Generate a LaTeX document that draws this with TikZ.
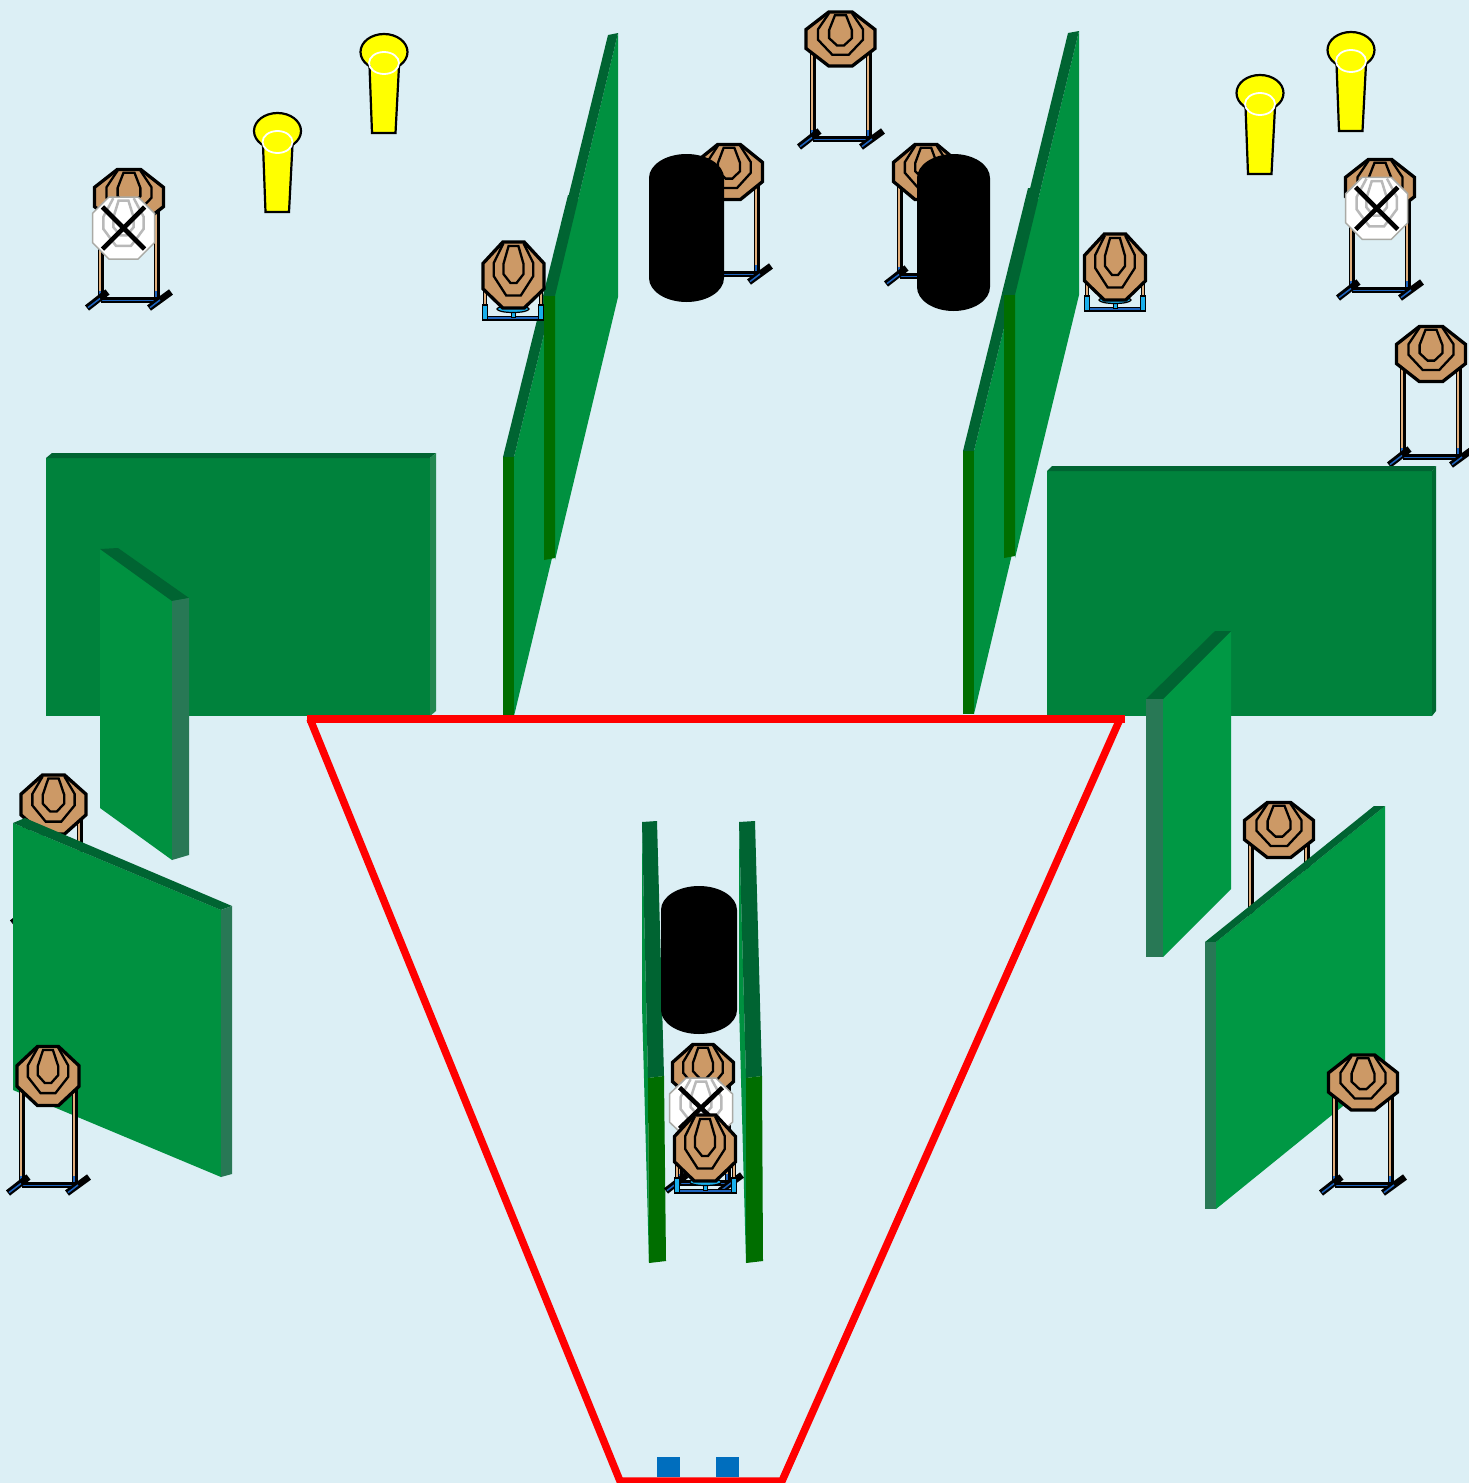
\documentclass[tikz,border=0pt]{standalone}
\definecolor{bgc}{RGB}{220,239,245}
\definecolor{tanc}{RGB}{204,153,102}
\definecolor{gdark}{RGB}{0,100,50}
\definecolor{gface}{RGB}{0,145,64}
\definecolor{gface2}{RGB}{0,152,68}
\definecolor{gbig}{RGB}{0,130,60}
\definecolor{gside}{RGB}{40,120,85}
\definecolor{gsideb}{RGB}{35,135,80}
\definecolor{gsidec}{RGB}{0,105,50}
\definecolor{gsl}{RGB}{0,110,0}
\definecolor{bluec}{RGB}{30,100,190}
\definecolor{cyanc}{RGB}{25,175,235}
\definecolor{sq}{RGB}{0,110,190}
\definecolor{yel}{RGB}{255,255,0}
\definecolor{redc}{RGB}{255,0,0}
\definecolor{wedge}{RGB}{170,170,165}
\definecolor{wring}{RGB}{185,185,185}
\definecolor{tanp}{RGB}{225,175,125}
\tikzset{
 oct/.style={draw=black,line width=3.3pt,line join=miter,fill=tanc},
 ringl/.style={draw=black,line width=2.3pt,line join=miter},
 woct/.style={draw=wedge,line width=1.5pt,fill=white},
 wringl/.style={draw=wring,line width=2.5pt},
 barrel/.style={fill=black},
 cone/.style={draw=black,line width=2.2pt,fill=yel},
}
% target: cx cy hw hh
\newcommand{\tgt}[4]{\begin{scope}[shift={(#1,#2)},x=#3pt,y=-#4pt]
 \draw[oct] (-.34,-1)--(.34,-1)--(1,-.35)--(1,.35)--(.34,1)--(-.34,1)--(-1,.35)--(-1,-.35)--cycle;
 \draw[ringl] (-.33,-.96)--(-.65,-.36)--(-.65,.03)--(-.24,.58)--(.24,.58)--(.65,.03)--(.65,-.36)--(.33,-.96);
 \draw[ringl] (-.16,-.88)--(.16,-.88)--(.33,-.33)--(.33,-.03)--(.1,.24)--(-.1,.24)--(-.33,-.03)--(-.33,-.33)--cycle;
\end{scope}}
% near target, narrower bottom
\newcommand{\tgtn}[4]{\begin{scope}[shift={(#1,#2)},x=#3pt,y=-#4pt]
 \draw[oct] (-.35,-1)--(.35,-1)--(1,-.35)--(1,.42)--(.35,1)--(-.35,1)--(-1,.42)--(-1,-.35)--cycle;
 \draw[ringl] (-.33,-.96)--(-.65,-.36)--(-.65,.03)--(-.24,.62)--(.24,.62)--(.65,.03)--(.65,-.36)--(.33,-.96);
 \draw[ringl] (-.16,-.88)--(.16,-.88)--(.33,-.33)--(.33,-.03)--(.1,.24)--(-.1,.24)--(-.33,-.03)--(-.33,-.33)--cycle;
\end{scope}}
% white crossed target
\newcommand{\wtgt}[4]{\begin{scope}[shift={(#1,#2)},x=#3pt,y=-#4pt]
 \draw[woct] (-.47,-1)--(.47,-1)--(1,-.47)--(1,.47)--(.47,1)--(-.47,1)--(-1,.47)--(-1,-.47)--cycle;
 \draw[wringl] (-.33,-.96)--(-.65,-.36)--(-.65,.03)--(-.24,.58)--(.24,.58)--(.65,.03)--(.65,-.36)--(.33,-.96);
 \draw[wringl] (-.16,-.88)--(.16,-.88)--(.33,-.33)--(.33,-.03)--(.1,.24)--(-.1,.24)--(-.33,-.03)--(-.33,-.33)--cycle;
 \draw[black,line width=4.6pt] (-.68,-.68)--(.68,.68) (.68,-.68)--(-.68,.68);
\end{scope}}
% stand: xl xr ytop ybar
\newcommand{\stand}[4]{
 \draw[black,line width=5.6pt] (#1,#3)--(#1,#4) (#2,#3)--(#2,#4);
 \draw[tanp,line width=1.8pt] (#1-.8,#3)--(#1-.8,#4-9) (#2-.8,#3)--(#2-.8,#4-9);
 \draw[bluec,line width=2.2pt] (#1-.8,#4-9)--(#1-.8,#4) (#2-.8,#4-9)--(#2-.8,#4);
 \draw[black,line width=5.4pt] (#1,#4)--(#2,#4);
 \draw[bluec,line width=1.6pt] (#1,#4+.6)--(#2,#4+.6);
 \draw[black,line width=6.6pt] (#1-14,#4+8)--(#1+6.5,#4-8) (#2-8,#4+8)--(#2+14,#4-8);
 \draw[bluec,line width=1.5pt] (#1-13,#4+7.6)--(#1-1,#4-1.5) (#2-7,#4+7.6)--(#2+3,#4);
}
% short box stand: xl xr ytop ybot
\newcommand{\bstand}[4]{
 \draw[black,line width=4.4pt] (#1,#3)--(#1,#4) (#2,#3)--(#2,#4);
 \draw[tanp,line width=1.8pt] (#1,#3)--(#1,#3+15) (#2,#3)--(#2,#3+15);
 \draw[black,line width=5pt] (#1-1,#4-1.5)--(#2+1,#4-1.5);
 \draw[bluec,line width=1.6pt] (#1,#4-2)--(#2,#4-2);
 \draw[draw=black,fill=cyanc,line width=1.2pt] (#1-2.2,#3+15) rectangle (#1+2.2,#4);
 \draw[draw=black,fill=cyanc,line width=1.2pt] (#2-2.2,#3+15) rectangle (#2+2.2,#4);
 \draw[draw=black,fill=cyanc,line width=1pt] ({(#1+#2)/2-2},#4-11) rectangle ({(#1+#2)/2+2},#4-3);
 \draw[draw=black,fill=cyanc,line width=1.2pt] ({(#1+#2)/2},#4-11) ellipse [x radius=16pt,y radius=3.5pt];
}
% cone: cx topcy
\newcommand{\conec}[2]{
 \draw[cone] (#1,#2) ellipse [x radius=23.5pt,y radius=18pt];
 \draw[cone] (#1-14.5,#2+14)--(#1-12,#2+81)--(#1+11.5,#2+81)--(#1+15,#2+14);
 \fill[yel] (#1-13.4,#2+8) rectangle (#1+13.9,#2+16);
 \draw[white,line width=1.8pt] (#1,#2+11) ellipse [x radius=15pt,y radius=11pt];
}
\newcommand{\barrelc}[4]{% xl xr top bottom
 \fill[barrel] (#1,#3+24) arc[start angle=180,end angle=0,x radius={(#2-#1)/2},y radius=-24] -- (#2,#4-24) arc[start angle=0,end angle=-180,x radius={(#2-#1)/2},y radius=-24] -- cycle;
}
\newcommand{\pfill}[2]{\fill[#1] #2 -- cycle;}
\begin{document}
\begin{tikzpicture}[x=1pt,y=-1pt]
\useasboundingbox (0,0) rectangle (1469,1483);
\fill[bgc] (0,0) rectangle (1469,1483);

% far targets
\stand{813}{869}{50}{139}\tgt{840.5}{39}{34.5}{27}
\stand{701}{757}{172}{274}\tgt{729}{172}{33.5}{27.5}
\stand{900}{956}{172}{276}\tgt{926}{172}{32.5}{27.5}
\stand{101}{157}{197}{300}\tgt{129}{197}{34.5}{27.5}\wtgt{123.5}{228}{31}{31}
\stand{1352}{1408}{187}{290}\tgt{1380}{187}{34.5}{27.5}\wtgt{1376.7}{208.3}{31}{31}
\stand{1403}{1459}{354}{457}\tgt{1431}{354}{34.5}{27.5}

% cones
\conec{277.5}{131}\conec{384}{52}\conec{1260}{93}\conec{1351}{50}

% barrels
\barrelc{649}{724}{154}{302}
\barrelc{917}{990}{154}{311}

% slanted panels top left
\pfill{gface}{(514,457)--(578,195)--(578,450)--(514,716)}
\pfill{gdark}{(503,457)--(568,195)--(578,195)--(514,457)}
\pfill{gsl}{(503,457)--(514,457)--(514,716)--(503,716)}
\pfill{gface}{(555,296)--(618,33)--(618,297)--(555,560)}
\pfill{gdark}{(544,296)--(608,35)--(618,33)--(555,296)}
\pfill{gsl}{(544,296)--(555,296)--(555,558)--(544,560)}
% slanted panels top right
\pfill{gface}{(974,451)--(1038,188)--(1038,445)--(974,714)}
\pfill{gdark}{(963,451)--(1028,188)--(1038,188)--(974,451)}
\pfill{gsl}{(963,451)--(974,451)--(974,714)--(963,714)}
\pfill{gface}{(1015,295)--(1079,31)--(1079,295)--(1015,558)}
\pfill{gdark}{(1004,295)--(1068,33)--(1079,31)--(1015,295)}
\pfill{gsl}{(1004,295)--(1015,295)--(1015,556)--(1004,558)}

% near-side box targets
\bstand{485}{541}{290}{320}\tgtn{513.5}{275}{30.5}{33}
\bstand{1087}{1143}{281}{311}\tgtn{1115}{267}{30.5}{33}

% big panels
\pfill{gbig}{(46,458)--(430,458)--(430,716)--(46,716)}
\pfill{gdark}{(46,458)--(52,453)--(436,453)--(430,458)}
\pfill{gsideb}{(430,458)--(436,453)--(436,711)--(430,716)}
\pfill{gbig}{(1047,471)--(1432,471)--(1432,716)--(1047,716)}
\pfill{gdark}{(1047,471)--(1052,466)--(1436,466)--(1432,471)}
\pfill{gsidec}{(1432,471)--(1436,466)--(1436,711)--(1432,716)}

% mid panels
\pfill{gface}{(100,549)--(172,601)--(172,860)--(100,808)}
\pfill{gdark}{(100,549)--(118,548)--(189,598)--(172,601)}
\pfill{gside}{(172,601)--(189,598)--(189,855)--(172,860)}
\pfill{gface2}{(1163,699)--(1231,631)--(1231,889)--(1163,957)}
\pfill{gdark}{(1146,699)--(1215,631)--(1231,631)--(1163,699)}
\pfill{gside}{(1146,699)--(1163,699)--(1163,957)--(1146,957)}

% side targets behind panels
\stand{26}{80}{804}{915}\tgt{53.5}{804.5}{32.5}{29.5}
\stand{1251}{1307}{830}{930}\tgt{1279}{830}{34.5}{27.5}

% lower side panels
\pfill{gface}{(13,823)--(221,910)--(221,1177)--(13,1090)}
\pfill{gdark}{(13,823)--(25,818)--(232,906)--(221,910)}
\pfill{gside}{(221,910)--(232,906)--(232,1174)--(221,1177)}
\pfill{gface2}{(1216,942)--(1385,806)--(1385,1072)--(1216,1209)}
\pfill{gdark}{(1205,942)--(1374,806)--(1385,806)--(1216,942)}
\pfill{gside}{(1205,942)--(1216,942)--(1216,1209)--(1205,1209)}

\stand{22}{75}{1076}{1185}\tgt{48}{1076}{31}{29.5}
\stand{1335}{1391}{1082}{1185}\tgt{1363}{1082.5}{34.5}{27.5}

% centre lane
\pfill{gface}{(642,822)--(648,1078)--(649,1263)--(642,1005)}
\pfill{gdark}{(642,822)--(657,821)--(664,1076)--(648,1078)}
\pfill{gsl}{(648,1078)--(664,1076)--(666,1261)--(649,1263)}
\pfill{gface}{(739,822)--(746,1078)--(746,1263)--(739,1005)}
\pfill{gdark}{(739,822)--(755,821)--(762,1076)--(746,1078)}
\pfill{gsl}{(746,1078)--(762,1076)--(763,1261)--(746,1263)}
\barrelc{661}{737}{886}{1034}
\stand{680}{728}{1072}{1183}
\tgt{703}{1072}{30.5}{27.5}
\wtgt{701}{1108}{31.5}{30}
\bstand{677}{734}{1163}{1193}\tgtn{705}{1148}{30.5}{33}

% red frame
\draw[redc,line width=8pt] (307,719.3)--(1125,719.3);
\draw[redc,line width=7.5pt,line join=miter] (310,719)--(620,1481)--(782,1481)--(1120,719);

% blue squares
\fill[sq] (657,1457) rectangle (680,1477);
\fill[sq] (716,1457) rectangle (739,1477);
\end{tikzpicture}
\end{document}
